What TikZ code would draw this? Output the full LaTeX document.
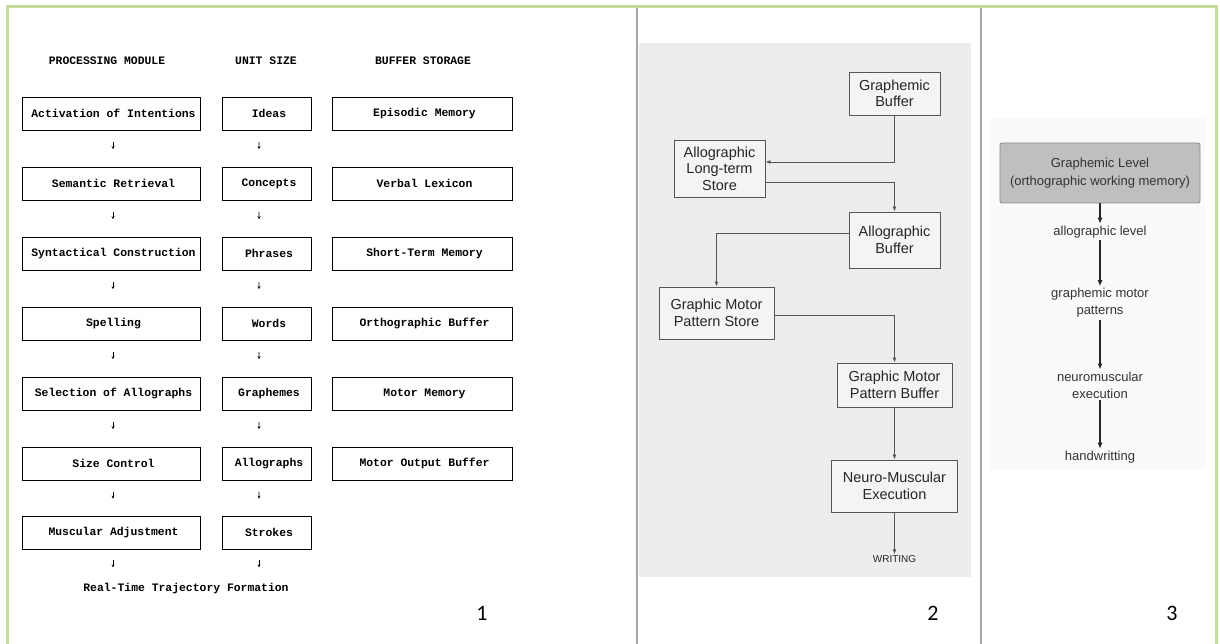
\documentclass[tikz,border=0pt]{standalone}
\usepackage{fontspec}
\setmainfont{Liberation Sans}
\newfontfamily\monofnt{Liberation Mono}
\newfontfamily\numfnt{Carlito}
\usetikzlibrary{arrows.meta,calc}
\definecolor{frameg}{HTML}{C4DC9C}
\definecolor{sepg}{HTML}{A6A6A6}
\definecolor{scanbg}{HTML}{EDEDED}
\definecolor{scanbox}{HTML}{F4F4F4}
\definecolor{scanln}{HTML}{555555}
\definecolor{lvlfill}{HTML}{BFBFBF}
\definecolor{lvldraw}{HTML}{8A8A8A}
\definecolor{txtg}{HTML}{333333}
\tikzset{
  monotxt/.style={font=\monofnt\bfseries\fontsize{11.4}{13}\selectfont},
  pbox/.style={monotxt, draw=black, line width=0.9pt, minimum height=33pt, inner sep=0pt,
     execute at begin node=\hspace*{5pt}},
  c1box/.style={pbox, minimum width=178pt},
  c2box/.style={pbox, minimum width=89pt},
  c3box/.style={pbox, minimum width=180pt},
  tick/.style={-{Stealth[length=3pt,width=3pt]}, line width=0.7pt},
  sbox/.style={draw=scanln, fill=scanbox, line width=0.9pt, font=\fontsize{14.5}{16.5}\selectfont,
     text=black!85, align=center, inner sep=0pt},
  sarr/.style={draw=scanln, line width=0.9pt, -{Latex[length=5pt,width=4pt]}},
  lvltxt/.style={font=\fontsize{13}{17}\selectfont, text=txtg, align=center, inner sep=2pt},
  larr/.style={draw=black!85, line width=1.3pt, -{Latex[length=6pt,width=5pt]}},
  numtxt/.style={font=\numfnt\fontsize{22}{24}\selectfont}
}
\begin{document}
\begin{tikzpicture}[x=1pt,y=-1pt]
\useasboundingbox (0,0) rectangle (1220,644);
% frame and separators
\draw[frameg, line width=3pt] (7,646) -- (7,7) -- (1216,7) -- (1216,646);
\draw[sepg, line width=2pt] (637,8.5) -- (637,646);
\draw[sepg, line width=2pt] (981,8.5) -- (981,646);

% ---------------- Panel 1 ----------------
\node[monotxt] (h1) at (107,61) {PROCESSING MODULE};
\node[monotxt] (h2) at (266,61) {UNIT SIZE};
\node[monotxt] (h3) at (423,61) {BUFFER STORAGE};

\node[c1box] (p1) at (111,113.5) {Activation of Intentions};
\node[c1box] (p2) at (111,183.5) {Semantic Retrieval};
\node[c1box] (p3) at (111,253.5) {Syntactical Construction};
\node[c1box] (p4) at (111,323.5) {Spelling};
\node[c1box] (p5) at (111,393.5) {Selection of Allographs};
\node[c1box] (p6) at (111,463.5) {Size Control};
\node[c1box] (p7) at (111,532.5) {Muscular Adjustment};

\node[c2box] (u1) at (266.5,113.5) {Ideas};
\node[c2box] (u2) at (266.5,183.5) {Concepts};
\node[c2box] (u3) at (266.5,253.5) {Phrases};
\node[c2box] (u4) at (266.5,323.5) {Words};
\node[c2box] (u5) at (266.5,393.5) {Graphemes};
\node[c2box] (u6) at (266.5,463.5) {Allographs};
\node[c2box] (u7) at (266.5,532.5) {Strokes};

\node[c3box] (b1) at (422,113.5) {Episodic Memory};
\node[c3box] (b2) at (422,183.5) {Verbal Lexicon};
\node[c3box] (b3) at (422,253.5) {Short-Term Memory};
\node[c3box] (b4) at (422,323.5) {Orthographic Buffer};
\node[c3box] (b5) at (422,393.5) {Motor Memory};
\node[c3box] (b6) at (422,463.5) {Motor Output Buffer};

\node[monotxt] (rt) at (186,589) {Real-Time Trajectory Formation};

\foreach \a/\b in {p1/p2,p2/p3,p3/p4,p4/p5,p5/p6,p6/p7}{
  \draw[tick] ($(\a.south)!0.32!(\b.north)+(2,0)$) -- ($(\a.south)!0.52!(\b.north)+(2,0)$);
}
\foreach \a/\b in {u1/u2,u2/u3,u3/u4,u4/u5,u5/u6,u6/u7}{
  \draw[tick] ($(\a.south)!0.32!(\b.north)+(-7.5,0)$) -- ($(\a.south)!0.52!(\b.north)+(-7.5,0)$);
}
\draw[tick] ($(p7.south)+(2,11)$) -- ($(p7.south)+(2,18)$);
\draw[tick] ($(u7.south)+(-7.5,11)$) -- ($(u7.south)+(-7.5,18)$);

\node[numtxt] (n1) at (482,613) {1};

% ---------------- Panel 2 ----------------
\fill[scanbg] (639,43) rectangle (971,577);
\node[sbox, minimum width=91pt, minimum height=43pt] (gb) at (894.5,93.5) {Graphemic\\Buffer};
\node[sbox, minimum width=91pt, minimum height=57pt] (alts) at (719.5,168.5) {Allographic\\Long-term\\Store};
\node[sbox, minimum width=91pt, minimum height=56pt] (ab) at (894.5,240) {Allographic\\Buffer};
\node[sbox, minimum width=115pt, minimum height=52pt] (gmps) at (716.5,313) {Graphic Motor\\Pattern Store};
\node[sbox, minimum width=115pt, minimum height=44pt] (gmpb) at (894.5,385) {Graphic Motor\\Pattern Buffer};
\node[sbox, minimum width=126pt, minimum height=52pt] (nme) at (894.5,486) {Neuro-Muscular\\Execution};
\node[font=\fontsize{10}{12}\selectfont, text=black!85, inner sep=1pt] (wr) at (894.5,559) {WRITING};

\draw[sarr] (gb.south) |- ([yshift=6.5pt]alts.east);
\draw[sarr] ([yshift=-13.5pt]alts.east) -| (ab.north);
\draw[sarr] ([yshift=7pt]ab.west) -| (gmps.north);
\draw[sarr] ([yshift=-2pt]gmps.east) -| (gmpb.north);
\draw[sarr] (gmpb.south) -- (nme.north);
\draw[sarr] (nme.south) -- (wr.north);

\node[numtxt] (n2) at (933,613) {2};

% ---------------- Panel 3 ----------------
\fill[black!2] (990,118) rectangle (1205,470);
\node[draw=lvldraw, fill=lvlfill, rounded corners=2pt, line width=0.8pt,
      minimum width=200pt, minimum height=60pt, font=\fontsize{13}{17.5}\selectfont,
      text=txtg, align=center] (gl) at (1100,173) {Graphemic Level\\(orthographic working memory)};
\node[lvltxt] (al) at (1100,232) {allographic level};
\node[lvltxt] (gm) at (1100,303) {graphemic motor\\patterns};
\node[lvltxt] (ne) at (1100,385) {neuromuscular\\execution};
\node[lvltxt] (hw) at (1100,457) {handwritting};
\draw[larr] (gl.south) -- (al.north);
\draw[larr] (al.south) -- (gm.north);
\draw[larr] (gm.south) -- (ne.north);
\draw[larr] (ne.south) -- (hw.north);

\node[numtxt] (n3) at (1172,613) {3};
\end{tikzpicture}
\end{document}
